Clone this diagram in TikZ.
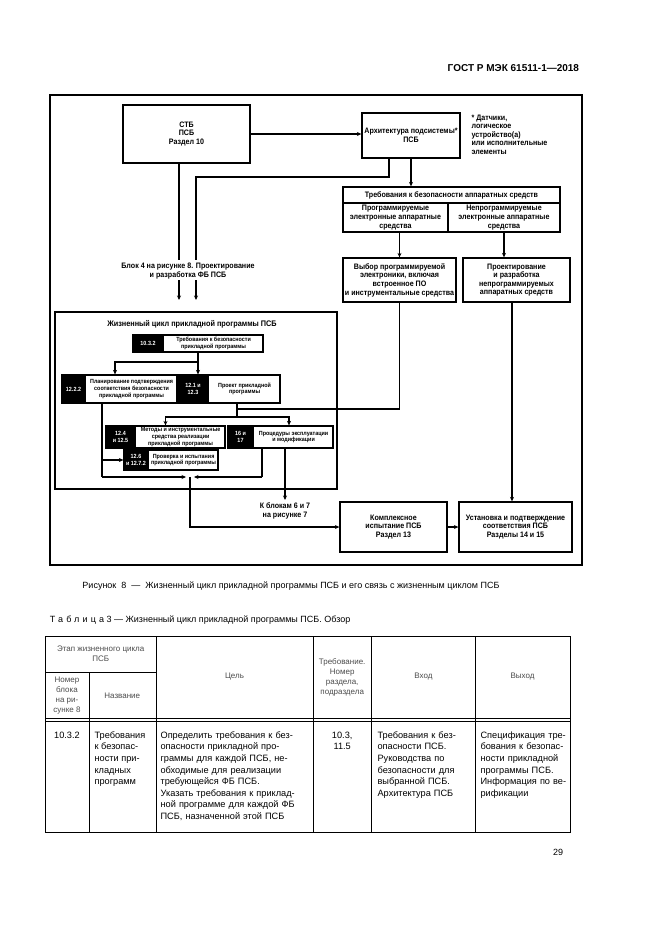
\documentclass[tikz,border=0pt]{standalone}
\usepackage{fontspec}
\setmainfont{Liberation Sans}
\newfontfamily\figfont[FakeStretch=0.9]{Liberation Sans}
\usetikzlibrary{arrows.meta,positioning,calc}

\newcommand\figtext{\figfont\bfseries\fontsize{7.9}{8.6}\selectfont}
\newcommand\stagetext{\figfont\bfseries\fontsize{6}{6.7}\selectfont}
\newcommand\jl[1]{\makebox[\linewidth][s]{#1}\\}

\tikzset{
  box/.style 2 args={draw, line width=1.3pt, minimum width=#1, minimum height=#2,
    inner sep=1pt, align=center, font=\figtext},
  lbl/.style={align=center, inner sep=1pt, font=\figtext},
  stage/.style 2 args={draw, line width=1.2pt, minimum width=#1, minimum height=#2, inner sep=0pt},
  stagenum/.style 2 args={draw, fill=black, text=white, line width=1.2pt, minimum width=#1,
    minimum height=#2, inner sep=0pt, align=center, font=\stagetext},
  stagetxt/.style={align=center, inner sep=0pt, font=\stagetext},
  tbl/.style={line width=0.6pt},
  head/.style={align=center, inner sep=0pt, text=black!70, font=\fontsize{8}{10}\selectfont},
  cell/.style={anchor=north west, inner sep=0pt, align=left, font=\fontsize{9.2}{11.6}\selectfont},
}

\newcommand\stagebox[8]{%
  \node[stage={#4pt}{#6pt}] (#1) at (#2,#3) {};
  \node[stagenum={#5pt}{#6pt}, anchor=west] (#1n) at (#1.west) {#7};
  \node[stagetxt] at ($(#1n.east)!.5!(#1.east)$) {#8};}

\begin{document}
\begin{tikzpicture}[x=1pt, y=-1pt, line width=1.2pt, >={Stealth[length=4.5pt,width=4pt]}]
  \fill[white] (0,0) rectangle (661,935);
  \useasboundingbox (0,0) rectangle (661,935);

  \node[anchor=east, font=\bfseries\fontsize{10}{12}\selectfont] (gost) at (583,68) {ГОСТ Р МЭК 61511-1—2018};

  \draw[line width=1.4pt] (50,95) rectangle (582,565);

  \node[box={127pt}{58pt}] (stb) at (186.5,134) {СТБ\\ПСБ\\Раздел 10};
  \node[box={98pt}{45pt}] (arch) at (411,135.5) {Архитектура подсистемы*\\ПСБ};
  \node[lbl, anchor=north west, align=left] (fn) at (470,113) {* Датчики,\\логическое\\устройство(а)\\или исполнительные\\элементы};

  \node[box={217pt}{16pt}] (hwreq) at (451.5,195) {Требования к безопасности аппаратных средств};
  \node[box={105pt}{29pt}] (pe) at (395.5,217.5) {Программируемые\\электронные аппаратные\\средства};
  \node[box={112pt}{29pt}] (npe) at (504,217.5) {Непрограммируемые\\электронные аппаратные\\средства};
  \node[box={113pt}{44pt}] (sel) at (399.5,280) {Выбор программируемой\\электроники, включая\\встроенное ПО\\и инструментальные средства};
  \node[box={107pt}{44pt}] (npdes) at (516.5,280) {Проектирование\\и разработка\\непрограммируемых\\аппаратных средств};

  \node[lbl] (b4) at (188,271) {Блок 4 на рисунке 8. Проектирование\\и разработка ФБ ПСБ};
  \coordinate (b4l) at (179,260);
  \coordinate (b4r) at (196,260);
  \coordinate (a4l) at (179,300);
  \coordinate (a4r) at (196,300);

  \draw[->] (stb.east) -- (stb.east -| arch.west);
  \draw (stb.south -| b4l) -- (b4l);
  \draw (arch.south -| 389,0) -- (389,177) -| (b4r);
  \draw[->] (b4.south -| a4l) -- (a4l);
  \draw[->] (b4.south -| a4r) -- (a4r);
  \draw[->] (arch.south) -- (arch.south |- hwreq.north);
  \draw[->] (pe.south -| sel.north) -- (sel.north);
  \draw[->] (npe.south) -- (npe.south |- npdes.north);

  \node[draw, line width=2.2pt, minimum width=282pt, minimum height=177pt] (life) at (196,400.5) {};
  \node[lbl, font=\figfont\bfseries\fontsize{8.1}{9}\selectfont] (title) at (192,324) {Жизненный цикл прикладной программы ПСБ};

  \stagebox{req}{198}{343.5}{130}{30}{17}{10.3.2}{Требования к безопасности\\прикладной программы}
  \stagebox{plan}{119.5}{389}{115}{23}{28}{12.2.2}{Планирование подтверждения\\соответствия безопасности\\прикладной программы}
  \stagebox{proj}{229}{389}{102}{30}{28}{12.1 и\\12.3}{Проект прикладной\\программы}
  \stagebox{meth}{165.5}{437}{119}{29}{22}{12.4\\и 12.5}{Методы и инструментальные\\средства реализации\\прикладной программы}
  \stagebox{oper}{280.5}{437}{105}{25}{22}{16 и\\17}{Процедуры эксплуатации\\и модификации}
  \stagebox{ver}{171}{460}{94}{24}{20}{12.6\\и 12.7.2}{Проверка и испытания\\прикладной программы}

  \coordinate (rq) at (198,362);
  \draw (req.south) -- (rq);
  \draw[->] (rq) -- (rq |- proj.north);
  \draw[->] (rq) -| (plan.north -| 115,0);

  \coordinate (pj) at (237,409);
  \coordinate (pk) at (237,417);
  \draw (proj.south -| pj) -- (pk);
  \draw[->] (pk) -| (meth.north);
  \draw[->] (pk) -| (oper.north -| 289,0);
  \draw (sel.south) |- (pj);

  \coordinate (pb) at (102,477);
  \coordinate (ob) at (262,477);
  \coordinate (mid) at (190,477);
  \draw (plan.south -| pb) -- (pb);
  \draw[->] (pb |- ver.west) -- (ver.west);
  \draw (oper.south -| ob) -- (ob);
  \draw[->, shorten >=4pt] (pb) -- (mid);
  \draw[->, shorten >=4pt] (ob) -- (mid);

  \node[box={107pt}{50pt}] (integ) at (393.5,527) {Комплексное\\испытание ПСБ\\Раздел 13};
  \node[box={113pt}{50pt}] (inst) at (515.5,527) {Установка и подтверждение\\соответствия ПСБ\\Разделы 14 и 15};

  \coordinate (k67) at (285,500);
  \draw[->] (oper.south -| k67) -- (k67);
  \node[lbl, below=1pt of k67] (k67t) {К блокам 6 и 7\\на рисунке 7};
  \draw[->] (mid) |- (integ.west);
  \draw[->] (integ.east) -- (inst.west);
  \draw[->] (npdes.south -| 512,0) -- (inst.north -| 512,0);

  \node[font=\fontsize{9}{11}\selectfont] (cap) at (291,586) {Рисунок~~8~~—~~Жизненный цикл прикладной программы ПСБ и его связь с жизненным циклом ПСБ};
  \node[anchor=west, font=\fontsize{9}{11}\selectfont] (tcap) at (46,620) {{\addfontfeature{LetterSpace=35}Таблица} 3 — Жизненный цикл прикладной программы ПСБ. Обзор};

  \draw[tbl] (45.5,636) rectangle (570,832);
  \draw[tbl] (45.5,672) -- (155.9,672);
  \draw[tbl] (45.5,718.5) -- (570,718.5);
  \draw[tbl] (45.5,721) -- (570,721);
  \draw[tbl] (88.8,672) -- (88.8,832);
  \draw[tbl] (155.9,636) -- (155.9,832);
  \draw[tbl] (313,636) -- (313,832);
  \draw[tbl] (371.5,636) -- (371.5,832);
  \draw[tbl] (475.3,636) -- (475.3,832);

  \node[head] (hstage) at (100.7,654) {Этап жизненного цикла\\ПСБ};
  \node[head] (hnum) at (67,696) {Номер\\блока\\на ри-\\сунке 8};
  \node[head] (hname) at (122.3,696) {Название};
  \node[head] (hgoal) at (234.5,677) {Цель};
  \node[head] (hreq) at (342.2,677) {Требование.\\Номер\\раздела,\\подраздела};
  \node[head] (hin) at (423.4,677) {Вход};
  \node[head] (hout) at (522.6,677) {Выход};

  \node[cell, anchor=north, align=center] (c1) at (67,731) {10.3.2};
  \node[cell] (c2) at (94,731) {Требования\\к безопас-\\ности при-\\кладных\\программ};
  \node[cell, text width=143pt] (c3) at (160,731) {\jl{Определить требования к без-}\jl{опасности прикладной про-}\jl{граммы для каждой ПСБ, не-}\jl{обходимые для реализации}требующейся ФБ ПСБ.\\\jl{Указать требования к приклад-}\jl{ной программе для каждой ФБ}ПСБ, назначенной этой ПСБ};
  \node[cell, anchor=north, align=center] (c4) at (342.2,731) {10.3,\\11.5};
  \node[cell, text width=92pt] (c5) at (377,731) {\jl{Требования к без-}опасности ПСБ.\\\jl{Руководства по}\jl{безопасности для}выбранной ПСБ.\\Архитектура ПСБ};
  \node[cell, text width=86pt] (c6) at (480,731) {\jl{Спецификация тре-}\jl{бования к безопас-}\jl{ности прикладной}программы ПСБ.\\\jl{Информация по ве-}рификации};

  \node[anchor=east, font=\fontsize{9}{11}\selectfont] (page) at (567,852) {29};
\end{tikzpicture}
\end{document}
